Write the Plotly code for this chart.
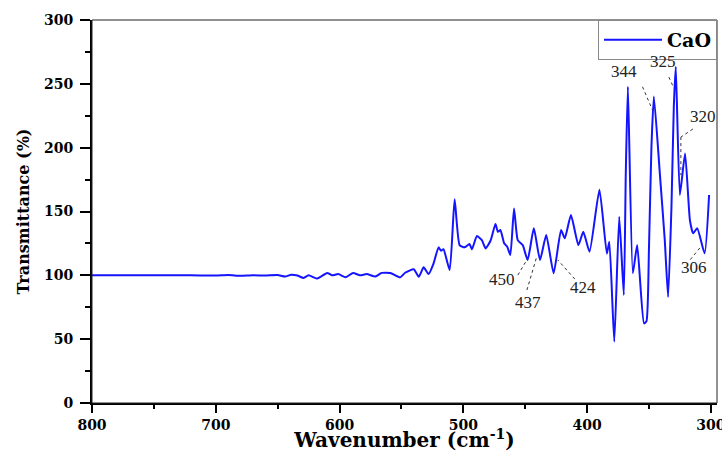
import plotly.graph_objects as go

# Wavenumber (cm-1) and transmittance (%)
wavenumber = [800, 760, 720, 700, 690, 680, 670, 660, 650, 644, 639, 634, 629, 625, 618,
              610, 606, 601, 595, 589, 583.5, 578, 571, 566, 559, 551, 547, 540, 536, 532,
              528, 524, 520, 518, 516, 511, 507, 503, 499, 495, 493, 489, 485, 482, 478,
              474, 472, 470, 467, 464.5, 462, 459, 456, 452, 448, 443, 438, 433, 427, 421,
              418, 413, 407, 403, 398, 390, 384, 382, 378, 374, 370.3, 368.7, 367, 363,
              359.5, 354, 352, 350, 348, 346, 341.2, 337.2, 334.5, 331.8, 329.9, 328.3,
              325, 320.8, 316.9, 314.3, 311, 305, 301.4]
transmittance = [100, 100, 100, 99.8, 100.2, 99.7, 100.1, 99.8, 100.2, 99, 100.5, 99.8, 98,
                 100, 97.5, 101.9, 100, 101, 98.5, 101.9, 100, 101, 99, 101.9, 101.9, 98.4,
                 102, 104.7, 98.9, 106.3, 101, 109.4, 121.9, 119.3, 120.4, 104.2, 159.5,
                 123.7, 121.9, 124.5, 120.4, 130.8, 127.6, 121.1, 127.1, 140.2, 134.1, 135.5,
                 125.1, 122.4, 115.9, 152.4, 127.6, 123.7, 112, 136.8, 112, 131.6, 101.6,
                 135.5, 129, 147.2, 123.7, 134.1, 118.5, 167, 117, 126.3, 48, 145.9, 84.6,
                 180, 247.7, 101.6, 123.7, 62.4, 64, 120, 200, 240, 179.9, 127.6, 83, 153.7,
                 232, 263.4, 163, 195.5, 143.3, 132.9, 136.8, 117.2, 162.9]

x_ticks = [800, 700, 600, 500, 400, 300]
y_ticks = [0, 50, 100, 150, 200, 250, 300]

peak_labels = ["344", "325", "320", "306", "450", "437", "424"]
label_x = [370.3, 338.8, 306.5, 313.7, 468.8, 447.8, 403.4]
label_y = [260, 267.8, 224.7, 106.5, 97.1, 79.1, 90.8]
leaders = [
    [(355.2, 247.7), (347.1, 229.4)],
    [(333.9, 255.3), (329.9, 246.7)],
    [(314.5, 214.6), (324.2, 208.3), (324.2, 178.5)],
    [(308.9, 121.4), (316.9, 112.0)],
    [(455.9, 100.2), (447.8, 113.5)],
    [(448.6, 88.5), (440.5, 115.1)],
    [(409.9, 97.1), (423.6, 112.0)],
]

SERIF = "Liberation Serif"
WIDE = "DejaVu Serif"

fig = go.Figure()
fig.add_trace(go.Scatter(
    x=wavenumber, y=transmittance, mode="lines", name="CaO",
    line=dict(color="#1414ff", width=2, shape="spline", smoothing=0.5),
))

for pts in leaders:
    for (x0, y0), (x1, y1) in zip(pts[:-1], pts[1:]):
        fig.add_shape(type="line", x0=x0, y0=y0, x1=x1, y1=y1, xref="x", yref="y",
                      line=dict(color="#333333", width=1, dash="dot"))

for t, x, y in zip(peak_labels, label_x, label_y):
    fig.add_annotation(x=x, y=y, text=t, showarrow=False, xref="x", yref="y",
                       font=dict(family=SERIF, size=17, color="#222222"))

# plot frame (thin top/right)
fig.add_shape(type="rect", xref="paper", yref="paper", x0=0, y0=0, x1=1, y1=1,
              line=dict(color="#222222", width=1))

fig.update_layout(
    width=722, height=452,
    margin=dict(l=92, r=5, t=20, b=49),
    paper_bgcolor="white", plot_bgcolor="white",
    showlegend=True,
    legend=dict(x=1, y=1, xanchor="right", yanchor="top",
                bgcolor="white", bordercolor="#888888", borderwidth=1,
                font=dict(family=WIDE, size=19, color="black", weight="bold"),
                itemwidth=58, tracegroupgap=0),
    xaxis=dict(
        range=[800, 295], tickmode="array", tickvals=x_ticks, automargin=False,
        ticks="outside", ticklen=8, tickwidth=2, tickcolor="black",
        showline=True, linecolor="black", linewidth=2, showgrid=False, zeroline=False,
        ticklabeloverflow="allow",
        tickfont=dict(family=WIDE, size=14, color="black", weight="bold"),
        minor=dict(tickvals=[750, 650, 550, 450, 350], ticks="outside", ticklen=4,
                   tickwidth=2, tickcolor="black", showgrid=False),
        title=dict(text="Wavenumber (cm<sup>-1</sup>)", standoff=2,
                   font=dict(family=WIDE, size=20, color="black", weight="bold")),
    ),
    yaxis=dict(
        range=[0, 300], tickmode="array", tickvals=y_ticks, automargin=False,
        ticks="outside", ticklen=10, tickwidth=2, tickcolor="black",
        showline=True, linecolor="black", linewidth=2, showgrid=False, zeroline=False,
        ticklabelstandoff=4,
        tickfont=dict(family=WIDE, size=14, color="black", weight="bold"),
        minor=dict(tickvals=[25, 75, 125, 175, 225, 275], ticks="outside", ticklen=5,
                   tickwidth=2, tickcolor="black", showgrid=False),
        title=dict(text="Transmittance (%)", standoff=10,
                   font=dict(family=WIDE, size=16, color="black", weight="bold")),
    ),
)

fig.write_html("out.html", config={"displayModeBar": False},
               post_script="document.body.style.margin='0';")
